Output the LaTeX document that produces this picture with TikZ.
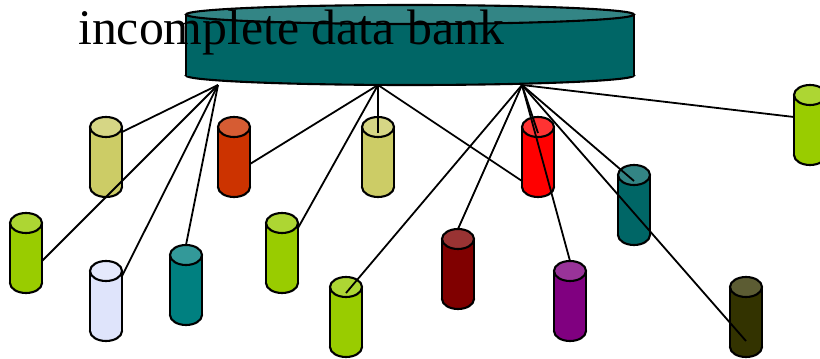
\documentclass[tikz,border=0pt]{standalone}
\usepackage{fontspec}
\setmainfont{Liberation Serif}
\definecolor{khaki}{HTML}{CCCC66}\definecolor{khakitop}{HTML}{D6D685}
\definecolor{rust}{HTML}{CC3300}\definecolor{rusttop}{HTML}{D65C33}
\definecolor{redb}{HTML}{FF0000}\definecolor{redbtop}{HTML}{FF3333}
\definecolor{deepteal}{HTML}{006666}\definecolor{deeptealtop}{HTML}{338585}
\definecolor{lime}{HTML}{99CC00}\definecolor{limetop}{HTML}{ADD633}
\definecolor{pale}{HTML}{DFE4FB}\definecolor{paletop}{HTML}{E5E9FC}
\definecolor{teal2}{HTML}{008080}\definecolor{teal2top}{HTML}{339999}
\definecolor{maroon2}{HTML}{800000}\definecolor{maroon2top}{HTML}{993333}
\definecolor{purple2}{HTML}{800080}\definecolor{purple2top}{HTML}{993399}
\definecolor{olive2}{HTML}{333300}\definecolor{olive2top}{HTML}{5C5C33}
\tikzset{
  canline/.style={draw=black,line width=2.1pt},
  canbox/.style={inner sep=0pt,outer sep=0pt},
  link/.style={line width=1.8pt,black}
}
% name, centre x, top y, colour, half width, height, end radius
\newcommand\drawcan[7]{%
  \begin{scope}[shift={(#2,#3)}]
    \draw[canline,fill=#4] (0,{#6-#7}) ellipse[x radius=#5,y radius=#7];
    \fill[#4] (-#5,#7) rectangle (#5,{#6-#7});
    \draw[canline] (-#5,#7) -- (-#5,{#6-#7}) (#5,#7) -- (#5,{#6-#7});
    \draw[canline,fill=#4top] (0,#7) ellipse[x radius=#5,y radius=#7];
    \node[canbox,minimum width={2*#5 pt},minimum height=#6 pt] (#1) at (0,{#6/2}) {};
  \end{scope}}
\begin{document}
\begin{tikzpicture}[x=1pt,y=-1pt]
\useasboundingbox (0,0) rectangle (820,359);
\drawcan{bank}{410}{5}{deepteal}{224}{80}{9.5}
\drawcan{c1}{106}{117}{khaki}{16}{80}{10}
\drawcan{c2}{234}{117}{rust}{16}{80}{10}
\drawcan{c3}{378}{117}{khaki}{16}{80}{10}
\drawcan{c4}{538}{117}{redb}{16}{80}{10}
\drawcan{c5}{634}{165}{deepteal}{16}{80}{10}
\drawcan{c6}{810}{85}{lime}{16}{80}{10}
\drawcan{c7}{26}{213}{lime}{16}{80}{10}
\drawcan{c8}{106}{261}{pale}{16}{80}{10}
\drawcan{c9}{186}{245}{teal2}{16}{80}{10}
\drawcan{c10}{282}{213}{lime}{16}{80}{10}
\drawcan{c11}{346}{277}{lime}{16}{80}{10}
\drawcan{c12}{458}{229}{maroon2}{16}{80}{10}
\drawcan{c13}{570}{261}{purple2}{16}{80}{10}
\drawcan{c14}{746}{277}{olive2}{16}{80}{10}
\coordinate (hubA) at (218,85);
\coordinate (hubB) at (378,85);
\coordinate (hubC) at (522,85);
\draw[link] (hubA) -- ([shift={(16,-25)}]c1.center);
\draw[link] (hubA) -- ([shift={(16,8)}]c7.center);
\draw[link] (hubA) -- ([shift={(16,-25)}]c8.center);
\draw[link] (hubA) -- ([shift={(0,-40)}]c9.center);
\draw[link] (hubB) -- ([shift={(16,7)}]c2.center);
\draw[link] (hubB) -- ([shift={(0,-24)}]c3.center);
\draw[link] (hubB) -- ([shift={(16,-25)}]c10.center);
\draw[link] (hubB) -- ([shift={(-16,24)}]c4.center);
\draw[link] (hubC) -- ([shift={(0,-24)}]c11.center);
\draw[link] (hubC) -- ([shift={(0,-40)}]c12.center);
\draw[link] (hubC) -- ([shift={(0,-24)}]c4.center);
\draw[link] (hubC) -- ([shift={(0,-40)}]c13.center);
\draw[link] (hubC) -- ([shift={(0,-24)}]c5.center);
\draw[link] (hubC) -- ([shift={(0,24)}]c14.center);
\draw[link] (hubC) -- ([shift={(-16,-8)}]c6.center);
\node[anchor=base west,inner sep=0pt,font=\fontsize{49.8}{50}\selectfont] (title) at (78,44) {incomplete data bank};
\end{tikzpicture}
\end{document}
